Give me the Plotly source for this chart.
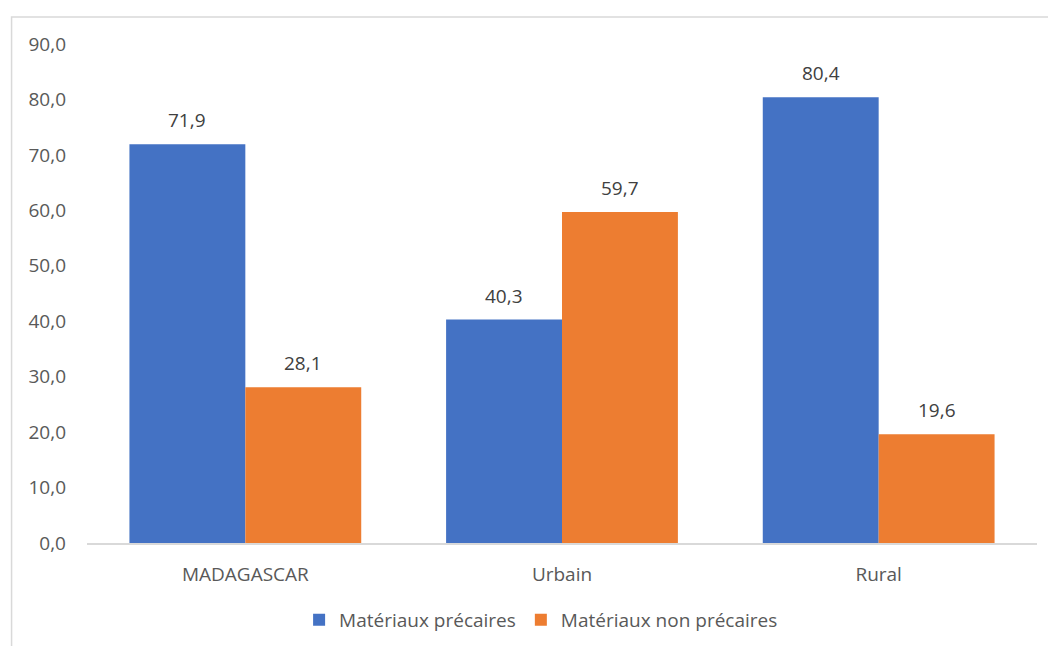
import plotly.graph_objects as go

categories = ["MADAGASCAR", "Urbain", "Rural"]
precaires = [71.9, 40.3, 80.4]
non_precaires = [28.1, 59.7, 19.6]
series_names = ["Matériaux précaires", "Matériaux non précaires"]
colors = ["#4472C4", "#ED7D31"]

FONT = "Open Sans, sans-serif"
FS = 19

fig = go.Figure()
for name, vals, col in zip(series_names, [precaires, non_precaires], colors):
    fig.add_trace(go.Bar(name=name, x=categories, y=vals, marker=dict(color=col, line=dict(width=0)),
                         hoverinfo="skip"))

offsets = [-0.5, 0.5]
annotations = []
for i, vals in enumerate([precaires, non_precaires]):
    for j, v in enumerate(vals):
        annotations.append(dict(
            x=j, y=v, xref="x", yref="y", text=f"{v:.1f}".replace(".", ","),
            showarrow=False, yshift=24, xshift=offsets[i] * 116,
            font=dict(family=FONT, size=FS, color="#404040")))

fig.update_layout(
    width=1048, height=646,
    margin=dict(l=86.5, r=10.5, t=44, b=103, autoexpand=False),
    paper_bgcolor="white", plot_bgcolor="white",
    barmode="group", bargap=0.268, bargroupgap=0,
    separators=", ",
    font=dict(family=FONT, size=FS, color="#595959"),
    showlegend=True,
    legend=dict(orientation="h", x=0.478, xanchor="center", y=-0.154, yanchor="middle",
                font=dict(family=FONT, size=FS, color="#595959"), itemwidth=30,
                traceorder="normal"),
    annotations=annotations,
    shapes=[dict(type="rect", xref="paper", yref="paper",
                 x0=-0.0794, x1=1.03, y0=-0.25, y1=1.054,
                 line=dict(color="#D9D9D9", width=1.5), fillcolor="rgba(0,0,0,0)", layer="below")],
)
fig.update_yaxes(range=[0, 90], dtick=10, tickformat=".1f", showgrid=False, zeroline=False,
                 showline=False, ticks="", ticklabelstandoff=20,
                 tickfont=dict(family=FONT, size=FS, color="#595959"))
fig.update_xaxes(showgrid=False, showline=True, linecolor="#D9D9D9", linewidth=1.5, ticks="",
                 ticklabelstandoff=13, tickfont=dict(family=FONT, size=FS, color="#595959"))

fig.write_html("out.html")
